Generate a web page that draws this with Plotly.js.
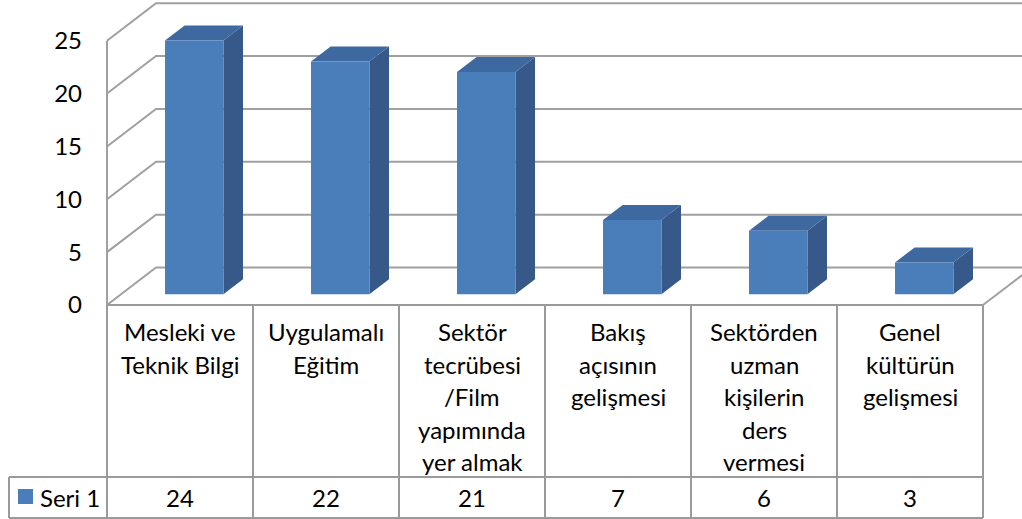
<!DOCTYPE html>
<html>
<head>
<meta charset="utf-8">
<script src="https://cdn.plot.ly/plotly-3.0.1.min.js"></script>
<style>html,body{margin:0;padding:0;background:#fff;}#chart{width:1022px;height:519px;}</style>
</head>
<body>
<div id="chart"></div>
<script>
// ---- data ----
var categories = [
  "Mesleki ve<br>Teknik Bilgi",
  "Uygulamalı<br>Eğitim",
  "Sektör<br>tecrübesi<br>/Film<br>yapımında<br>yer almak",
  "Bakış<br>açısının<br>gelişmesi",
  "Sektörden<br>uzman<br>kişilerin<br>ders<br>vermesi",
  "Genel<br>kültürün<br>gelişmesi"
];
var values = [24, 22, 21, 7, 6, 3];
var seriesName = "Seri 1";
var yTicks = [0, 5, 10, 15, 20, 25];

// ---- geometry (pixel layout -> data units) ----
var W = 1022, H = 519;
var X0 = 107, PXX = 146;           // left edge of category area, px per category
var Y0 = 305, PXY = 10.572;        // floor front y, px per unit
function xd(px) { return -0.5 + (px - X0) / PXX; }
function yd(py) { return (Y0 - py) / PXY; }
var WDX = 49 / PXX, WDY = 37.5 / PXY;        // wall depth offset
var FRONT = 0.29, DEPTH = 0.40;              // bar position within depth
var BSX = FRONT * WDX, BSY = FRONT * WDY;    // bar front-face shift
var BDX = DEPTH * WDX, BDY = DEPTH * WDY;    // bar depth
var BW = 0.4;
var n = values.length;
var xmin = xd(0), xmax = xd(W);

var gridCol = "#A0A0A0";
var frontCol = "#4A7EBB", sideCol = "#37598A", topCol = "#3E69A0";
var font = "Lato, Carlito, Calibri, 'Liberation Sans', sans-serif";
var fs = 24;

var shapes = [];
// walls & gridlines
yTicks.forEach(function (t) {
  shapes.push({type: "path", xref: "x", yref: "y", layer: "below",
    path: "M " + (-0.5) + "," + t + " L " + (-0.5 + WDX) + "," + (t + WDY) + " L " + (xmax + 1) + "," + (t + WDY),
    line: {color: gridCol, width: 2}});
});
shapes.push({type: "line", xref: "x", yref: "y", layer: "below",
  x0: -0.5, x1: -0.5, y0: 0, y1: yTicks[yTicks.length - 1], line: {color: gridCol, width: 2}});
shapes.push({type: "path", xref: "x", yref: "y", layer: "below",
  path: "M " + (n - 0.5) + ",0 L " + (n - 0.5 + WDX) + "," + WDY,
  line: {color: gridCol, width: 2}});

// 3D faces of bars
var pos = values.map(function (v, i) { return i + BSX; });
values.forEach(function (v, i) {
  var xl = pos[i] - BW / 2, xr = pos[i] + BW / 2, b = BSY, t = BSY + v;
  shapes.push({type: "path", xref: "x", yref: "y", layer: "below",
    path: "M " + xr + "," + b + " L " + (xr + BDX) + "," + (b + BDY) + " L " + (xr + BDX) + "," + (t + BDY) + " L " + xr + "," + t + " Z",
    fillcolor: sideCol, line: {width: 0}});
  shapes.push({type: "path", xref: "x", yref: "y", layer: "below",
    path: "M " + xl + "," + t + " L " + xr + "," + t + " L " + (xr + BDX) + "," + (t + BDY) + " L " + (xl + BDX) + "," + (t + BDY) + " Z",
    fillcolor: topCol, line: {width: 0}});
});

// data table
var rowMid = yd(477), rowBot = yd(518), tLeft = xd(9);
var tcol = "#9A9A9A";
shapes.push({type: "line", xref: "x", yref: "y", x0: -0.5, x1: n - 0.5, y0: 0, y1: 0, line: {color: tcol, width: 2}});
shapes.push({type: "line", xref: "x", yref: "y", x0: tLeft, x1: n - 0.5, y0: rowMid, y1: rowMid, line: {color: tcol, width: 2}});
shapes.push({type: "line", xref: "x", yref: "y", x0: tLeft, x1: n - 0.5, y0: rowBot, y1: rowBot, line: {color: tcol, width: 2}});
shapes.push({type: "line", xref: "x", yref: "y", x0: tLeft, x1: tLeft, y0: rowMid, y1: rowBot, line: {color: tcol, width: 2}});
for (var k = 0; k <= n; k++) {
  shapes.push({type: "line", xref: "x", yref: "y", x0: k - 0.5, x1: k - 0.5, y0: 0, y1: rowBot, line: {color: tcol, width: 2}});
}
// legend key
shapes.push({type: "rect", xref: "x", yref: "y", x0: xd(18), x1: xd(33), y0: yd(489), y1: yd(504),
  fillcolor: frontCol, line: {width: 0}});

var annotations = [];
categories.forEach(function (c, i) {
  c.split("<br>").forEach(function (line, j) {
    annotations.push({x: i, y: yd(331.5 + j * 32.5), xref: "x", yref: "y", text: line,
      showarrow: false, xanchor: "center", yanchor: "middle", font: {family: font, size: fs, color: "#000"}});
  });
  annotations.push({x: i, y: yd(497.5), xref: "x", yref: "y", text: String(values[i]),
    showarrow: false, xanchor: "center", yanchor: "middle", font: {family: font, size: fs, color: "#000"}});
});
annotations.push({x: xd(38), y: yd(497.5), xref: "x", yref: "y", text: seriesName,
  showarrow: false, xanchor: "left", yanchor: "middle", font: {family: font, size: fs, color: "#000"}});

var trace = {
  type: "bar", name: seriesName, x: pos, y: values, base: BSY, width: BW,
  marker: {color: frontCol, line: {width: 0}}, showlegend: false, hoverinfo: "skip"
};

var layout = {
  width: W, height: H,
  margin: {l: 0, r: 0, t: 0, b: 0},
  paper_bgcolor: "#fff", plot_bgcolor: "rgba(0,0,0,0)",
  showlegend: false,
  xaxis: {range: [xmin, xmax], visible: false, fixedrange: true},
  yaxis: {range: [yd(H), yd(0)], anchor: "free", position: X0 / W,
    tickvals: yTicks, ticktext: yTicks.map(String), showgrid: false, zeroline: false,
    showline: false, ticks: "", ticklabelstandoff: 25,
    tickfont: {family: font, size: fs, color: "#000"}, fixedrange: true},
  shapes: shapes,
  annotations: annotations
};

Plotly.newPlot("chart", [trace], layout, {staticPlot: true, displayModeBar: false});
</script>
</body>
</html>
